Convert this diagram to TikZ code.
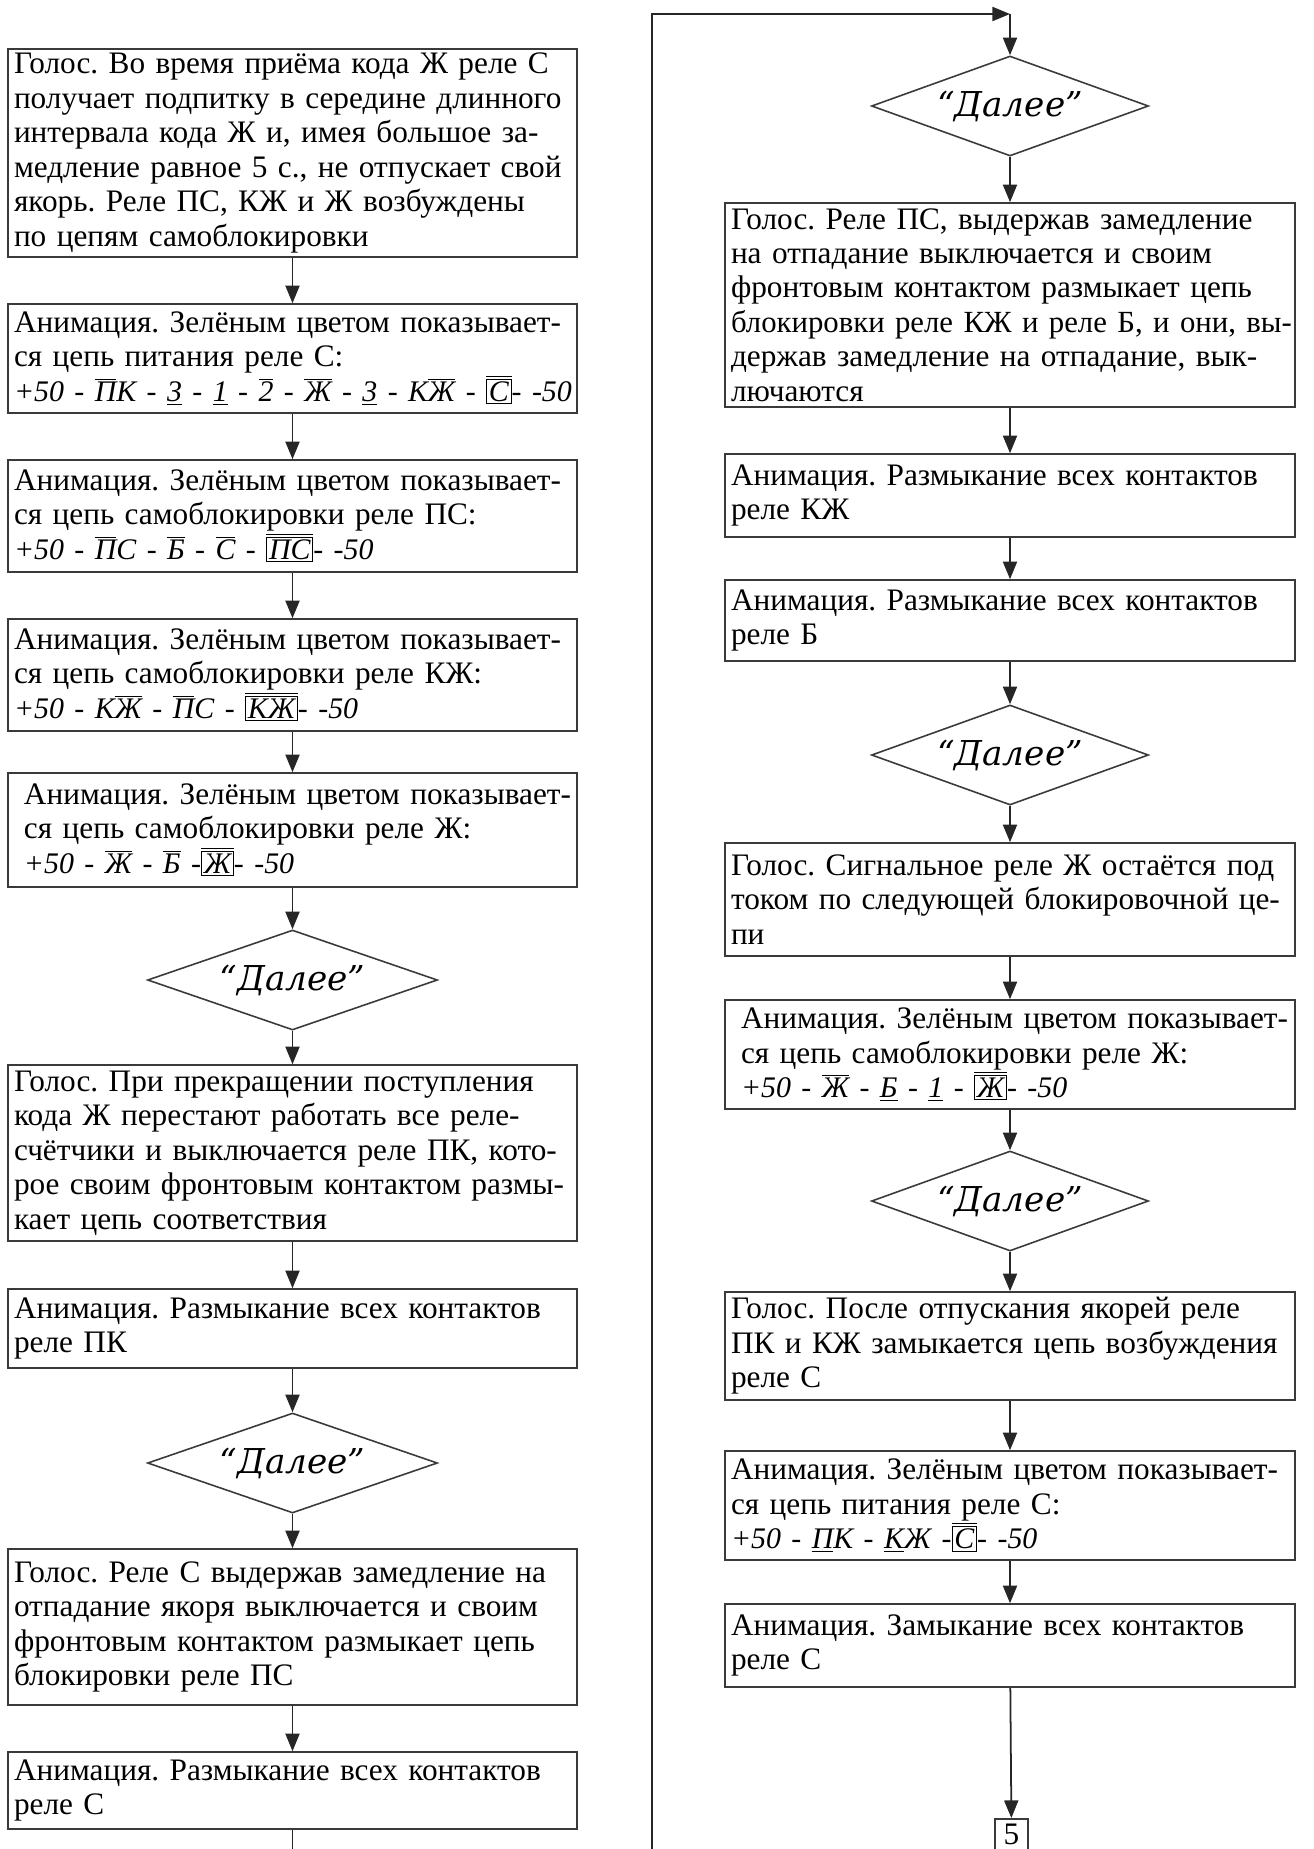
\documentclass[tikz,border=0pt]{standalone}
\usepackage{fontspec}
\setmainfont{Liberation Serif}
\newfontfamily\dalfont{DejaVu Serif}
\usepackage{tikz}
\usetikzlibrary{shapes.geometric,arrows.meta,positioning}
\definecolor{LineGray}{HTML}{3A3A3A}
\frenchspacing
% contact marks: back contact, front contact, relay coil
\newcommand{\kbar}[1]{\ensuremath{\overline{\mbox{#1}}}}
\newcommand{\kund}[1]{\ensuremath{\underline{\mbox{#1}}}}
\newcommand{\kbox}[1]{\ensuremath{\overline{\mbox{\fboxsep=1pt\fboxrule=0.6pt\fbox{#1}}}}}
\newcommand{\frm}[1]{\mbox{\itshape\fontsize{17}{19.6}\selectfont #1}}
\newcommand{\ind}{\hspace*{0.2cm}}
\tikzset{
    % Base text box style
    stepbox/.style={
        draw=LineGray,
        line width=0.9pt,
        rectangle,
        inner xsep=0.12cm,
        inner ysep=0pt,
        align=left,
        font=\fontsize{17.8}{19.6}\selectfont
    },
    % Left column box
    leftbox/.style={
        stepbox,
        minimum width=11.38cm,
        text width=11.14cm
    },
    % Right column box
    rightbox/.style={
        stepbox,
        minimum width=11.4cm,
        text width=11.16cm
    },
    % "Next" decision
    nextnode/.style={
        diamond,
        draw=LineGray,
        line width=0.9pt,
        aspect=3,
        inner sep=0pt,
        minimum width=5.8cm,
        minimum height=2cm,
        font=\dalfont\itshape\fontsize{19.5}{22}\selectfont
    },
    % Page connector
    pagenode/.style={
        draw=LineGray,
        line width=0.9pt,
        inner sep=0pt,
        minimum width=0.66cm,
        minimum height=0.64cm,
        font=\fontsize{17.8}{19.6}\selectfont
    },
    % Arrow styles
    myarrow/.style={
        -{Triangle[length=10pt,width=8pt]},
        line width=1pt,
        draw=black!85
    },
    myline/.style={
        line width=1pt,
        draw=black!85
    }
}

\begin{document}
\begin{tikzpicture}
\useasboundingbox (0,0) rectangle (26.26,-36.98);

% left column
\node[leftbox, minimum height=4.16cm] (b1) at (5.85,-3.06) {Голос. Во время приёма кода Ж реле С\\получает подпитку в середине длинного\\интервала кода Ж и, имея большое за-\\медление равное 5 с., не отпускает свой\\якорь. Реле ПС, КЖ и Ж возбуждены\\по цепям самоблокировки};
\node[leftbox, minimum height=2.18cm] (b2) at (5.85,-7.17) {Анимация. Зелёным цветом показывает-\\ся цепь питания реле С:\\\frm{+50 - \kbar{П}К - \kund{3} - \kund{1} - \kbar{2} - \kbar{Ж} - \kund{3} - К\kbar{Ж} - \kbox{С}- -50}};
\node[leftbox, minimum height=2.24cm] (b3) at (5.85,-10.32) {Анимация. Зелёным цветом показывает-\\ся цепь самоблокировки реле ПС:\\\frm{+50 - \kbar{П}С - \kbar{Б} - \kbar{С} - \kbox{ПС}- -50}};
\node[leftbox, minimum height=2.24cm] (b4) at (5.85,-13.50) {Анимация. Зелёным цветом показывает-\\ся цепь самоблокировки реле КЖ:\\\frm{+50 - К\kbar{Ж} - \kbar{П}С - \kbox{КЖ}- -50}};
\node[leftbox, minimum height=2.28cm] (b5) at (5.85,-16.60) {\ind Анимация. Зелёным цветом показывает-\\\ind ся цепь самоблокировки реле Ж:\\\ind\frm{+50 - \kbar{Ж} - \kbar{Б} -\kbox{Ж}- -50}};
\node[nextnode] (d1) at (5.85,-19.60) {“Далее”};
\node[leftbox, minimum height=3.52cm] (b6) at (5.85,-23.06) {Голос. При прекращении поступления\\кода Ж перестают работать все реле-\\счётчики и выключается реле ПК, кото-\\рое своим фронтовым контактом размы-\\кает цепь соответствия};
\node[leftbox, minimum height=1.58cm] (b7) at (5.85,-26.57) {Анимация. Размыкание всех контактов\\реле ПК};
\node[nextnode] (d2) at (5.85,-29.26) {“Далее”};
\node[leftbox, minimum height=3.12cm] (b8) at (5.85,-32.54) {Голос. Реле С выдержав замедление на\\отпадание якоря выключается и своим\\фронтовым контактом размыкает цепь\\блокировки реле ПС};
\node[leftbox, minimum height=1.54cm] (b9) at (5.85,-35.81) {Анимация. Размыкание всех контактов\\реле С};
\coordinate (lend) at (5.85,-36.98);

% right column
\coordinate (rstart) at (13.04,-36.98);
\coordinate (rtop) at (20.2,-0.28);
\node[nextnode, minimum width=5.54cm] (d3) at (20.2,-2.12) {“Далее”};
\node[rightbox, minimum height=4.08cm] (r1) at (20.2,-6.10) {Голос. Реле ПС, выдержав замедление\\на отпадание выключается и своим\\фронтовым контактом размыкает цепь\\\mbox{\fontsize{17.5}{19.6}\selectfont блокировки реле КЖ и реле Б, и они, вы-}\\держав замедление на отпадание, вык-\\лючаются};
\node[rightbox, minimum height=1.66cm] (r2) at (20.2,-9.91) {Анимация. Размыкание всех контактов\\реле КЖ};
\node[rightbox, minimum height=1.62cm] (r3) at (20.2,-12.41) {Анимация. Размыкание всех контактов\\реле Б};
\node[nextnode, minimum width=5.54cm] (d4) at (20.2,-15.10) {“Далее”};
\node[rightbox, minimum height=2.26cm] (r4) at (20.2,-17.99) {Голос. Сигнальное реле Ж остаётся под\\током по следующей блокировочной це-\\пи};
\node[rightbox, minimum height=2.18cm] (r5) at (20.2,-21.09) {\ind Анимация. Зелёным цветом показывает-\\\ind ся цепь самоблокировки реле Ж:\\\ind\frm{+50 - \kbar{Ж} - \kund{Б} - \kund{1} - \kbox{Ж}- -50}};
\node[nextnode, minimum width=5.54cm] (d5) at (20.2,-24.02) {“Далее”};
\node[rightbox, minimum height=2.16cm] (r6) at (20.2,-26.92) {Голос. После отпускания якорей реле\\ПК и КЖ замыкается цепь возбуждения\\реле С};
\node[rightbox, minimum height=2.18cm] (r7) at (20.2,-30.11) {Анимация. Зелёным цветом показывает-\\ся цепь питания реле С:\\\frm{+50 - \kund{П}К - \kund{К}Ж -\kbox{С}- -50}};
\node[rightbox, minimum height=1.66cm] (r8) at (20.2,-32.91) {Анимация. Замыкание всех контактов\\реле С};
\node[pagenode, anchor=north] (five) at (20.23,-36.36) {5};

\draw[myarrow] (b1) -- (b2);
\draw[myarrow] (b2) -- (b3);
\draw[myarrow] (b3) -- (b4);
\draw[myarrow] (b4) -- (b5);
\draw[myarrow] (b5) -- (d1);
\draw[myarrow] (d1) -- (b6);
\draw[myarrow] (b6) -- (b7);
\draw[myarrow] (b7) -- (d2);
\draw[myarrow] (d2) -- (b8);
\draw[myarrow] (b8) -- (b9);
\draw[myline] (b9) -- (lend);

\draw[myarrow] (rstart) |- (rtop);
\draw[myarrow] (rtop) -- (d3);
\draw[myarrow] (d3) -- (r1);
\draw[myarrow] (r1) -- (r2);
\draw[myarrow] (r2) -- (r3);
\draw[myarrow] (r3) -- (d4);
\draw[myarrow] (d4) -- (r4);
\draw[myarrow] (r4) -- (r5);
\draw[myarrow] (r5) -- (d5);
\draw[myarrow] (d5) -- (r6);
\draw[myarrow] (r6) -- (r7);
\draw[myarrow] (r7) -- (r8);
\draw[myarrow] (r8) -- (five);
\end{tikzpicture}
\end{document}
